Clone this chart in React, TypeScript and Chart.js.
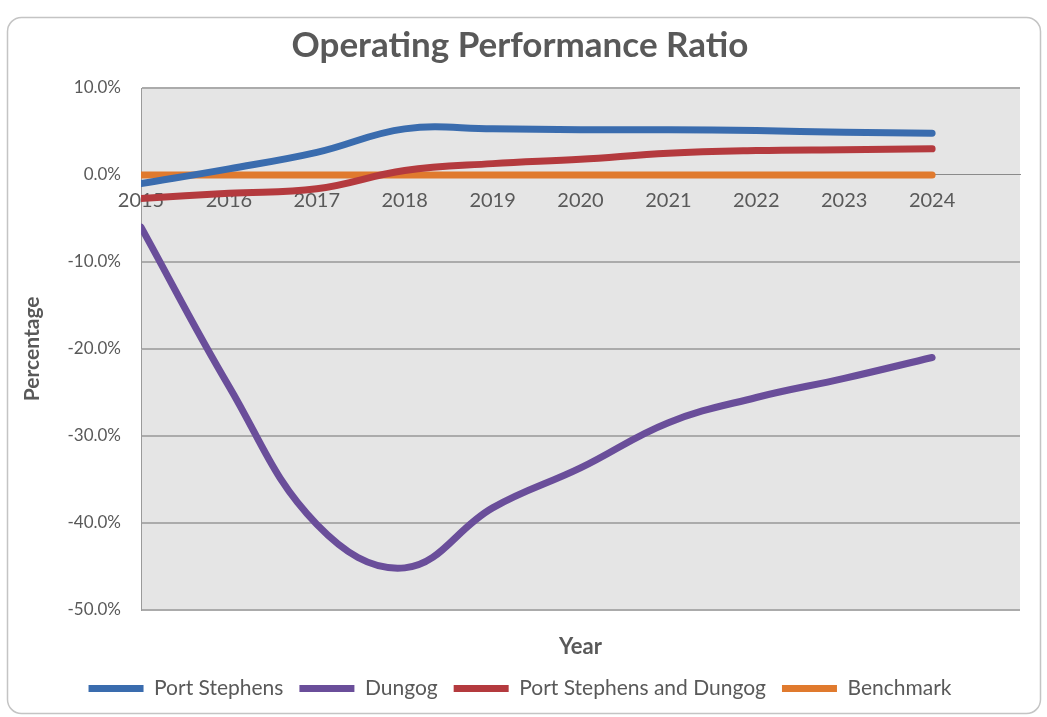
import { useEffect, useRef } from "react";
import { Chart, registerables } from "chart.js";

Chart.register(...registerables);

// Financial years shown on the horizontal axis
const years = [2015, 2016, 2017, 2018, 2019, 2020, 2021, 2022, 2023, 2024];

// Operating performance ratio, in percent
const portStephens = [-1.0, 0.7, 2.6, 5.3, 5.3, 5.2, 5.2, 5.1, 4.9, 4.8];
const dungog = [-6.0, -24.3, -40.2, -45.2, -38.3, -33.7, -28.5, -25.6, -23.4, -21.0];
const combined = [-2.7, -2.1, -1.6, 0.5, 1.3, 1.8, 2.5, 2.8, 2.9, 3.0];
const benchmark = [0, 0, 0, 0, 0, 0, 0, 0, 0, 0];

const seriesNames = ["Port Stephens", "Dungog", "Port Stephens and Dungog", "Benchmark"];
const seriesColors = ["#3a6cae", "#6a4e9a", "#b43a3e", "#e07a2e"];

// Value axis range
const yMin = -50;
const yMax = 10;
const yStep = 10;

const FONT = "Lato, 'Open Sans', sans-serif";
const TEXT = "#595959";

const frame = {
  id: "frame",
  beforeDraw(chart: Chart) {
    const { ctx, chartArea } = chart;
    ctx.save();
    // outer rounded border
    ctx.strokeStyle = "#c4c4c4";
    ctx.lineWidth = 1.5;
    ctx.beginPath();
    (ctx as any).roundRect(7.5, 17.5, 1033, 696, 14);
    ctx.stroke();
    // plot background
    ctx.fillStyle = "#e5e5e5";
    ctx.fillRect(chartArea.left, chartArea.top, chartArea.right - chartArea.left, chartArea.bottom - chartArea.top);
    ctx.restore();
  },
};

export default function App() {
  const ref = useRef<HTMLCanvasElement | null>(null);

  useEffect(() => {
    document.body.style.margin = "0";
    const canvas = ref.current;
    if (!canvas) return;
    const series = [portStephens, dungog, combined, benchmark];
    const chart = new Chart(canvas, {
      type: "line",
      data: {
        datasets: series.map((values, i) => ({
          label: seriesNames[i],
          data: years.map((yr, j) => ({ x: yr, y: values[j] })),
          borderColor: seriesColors[i],
          backgroundColor: seriesColors[i],
          borderWidth: 7,
          borderCapStyle: "round" as const,
          borderJoinStyle: "round" as const,
          pointRadius: 0,
          pointHoverRadius: 0,
          tension: 0.4,
          fill: false,
        })),
      },
      plugins: [frame],
      options: {
        responsive: false,
        animation: false,
        devicePixelRatio: 1,
        layout: { padding: { top: 25, left: 20, right: 27, bottom: 8 } },
        plugins: {
          tooltip: { enabled: false },
          title: {
            display: true,
            text: "Operating Performance Ratio",
            color: TEXT,
            font: { family: FONT, size: 35, weight: "bold" },
            padding: { top: 0, bottom: 21 },
          },
          legend: {
            position: "bottom",
            labels: {
              color: TEXT,
              font: { family: FONT, size: 21 },
              boxWidth: 55,
              boxHeight: 7,
              useBorderRadius: true,
              borderRadius: 3.5,
              padding: 16,
              generateLabels: (c: Chart) =>
                c.data.datasets.map((ds: any, i: number) => ({
                  text: ds.label,
                  fillStyle: ds.borderColor,
                  strokeStyle: ds.borderColor,
                  lineWidth: 0,
                  fontColor: TEXT,
                  hidden: false,
                  datasetIndex: i,
                })),
            },
          },
        },
        scales: {
          x: {
            type: "linear",
            position: { y: 0 },
            min: 2015,
            max: 2025,
            grid: { display: false, drawTicks: false },
            border: { display: true, color: "#8a8a8a", width: 1 },
            ticks: {
              stepSize: 1,
              padding: 14,
              color: TEXT,
              font: { family: FONT, size: 20 },
              maxRotation: 0,
              autoSkip: false,
              callback: (v: any) => (Number(v) <= 2024 ? String(v) : ""),
            },
          },
          xTitle: {
            type: "linear",
            axis: "x",
            position: "bottom",
            min: 0,
            max: 1,
            grid: { display: false, drawTicks: false },
            border: { display: false },
            ticks: { display: false },
            title: {
              display: true,
              text: "Year",
              color: TEXT,
              font: { family: FONT, size: 22, weight: "bold" },
              padding: { top: 24, bottom: 2 },
            },
          },
          y: {
            type: "linear",
            min: yMin,
            max: yMax,
            grid: {
              drawTicks: false,
              lineWidth: 2,
              color: (c: any) => (c.tick && c.tick.value === 0 ? "rgba(0,0,0,0)" : "#ababab"),
            },
            border: { display: true, color: "#9a9a9a", width: 1 },
            ticks: {
              stepSize: yStep,
              padding: 20,
              color: TEXT,
              font: { family: FONT, size: 17 },
              callback: (v: any) => `${Number(v).toFixed(1)}%`,
            },
            title: {
              display: true,
              text: "Percentage",
              color: TEXT,
              font: { family: FONT, size: 21, weight: "bold" },
              padding: { top: 0, bottom: 0 },
            },
            afterFit: (scale: any) => {
              scale.width = 121;
            },
          },
        },
      },
    } as any);
    return () => chart.destroy();
  }, []);

  return <canvas ref={ref} width={1047} height={717} style={{ display: "block" }} />;
}
